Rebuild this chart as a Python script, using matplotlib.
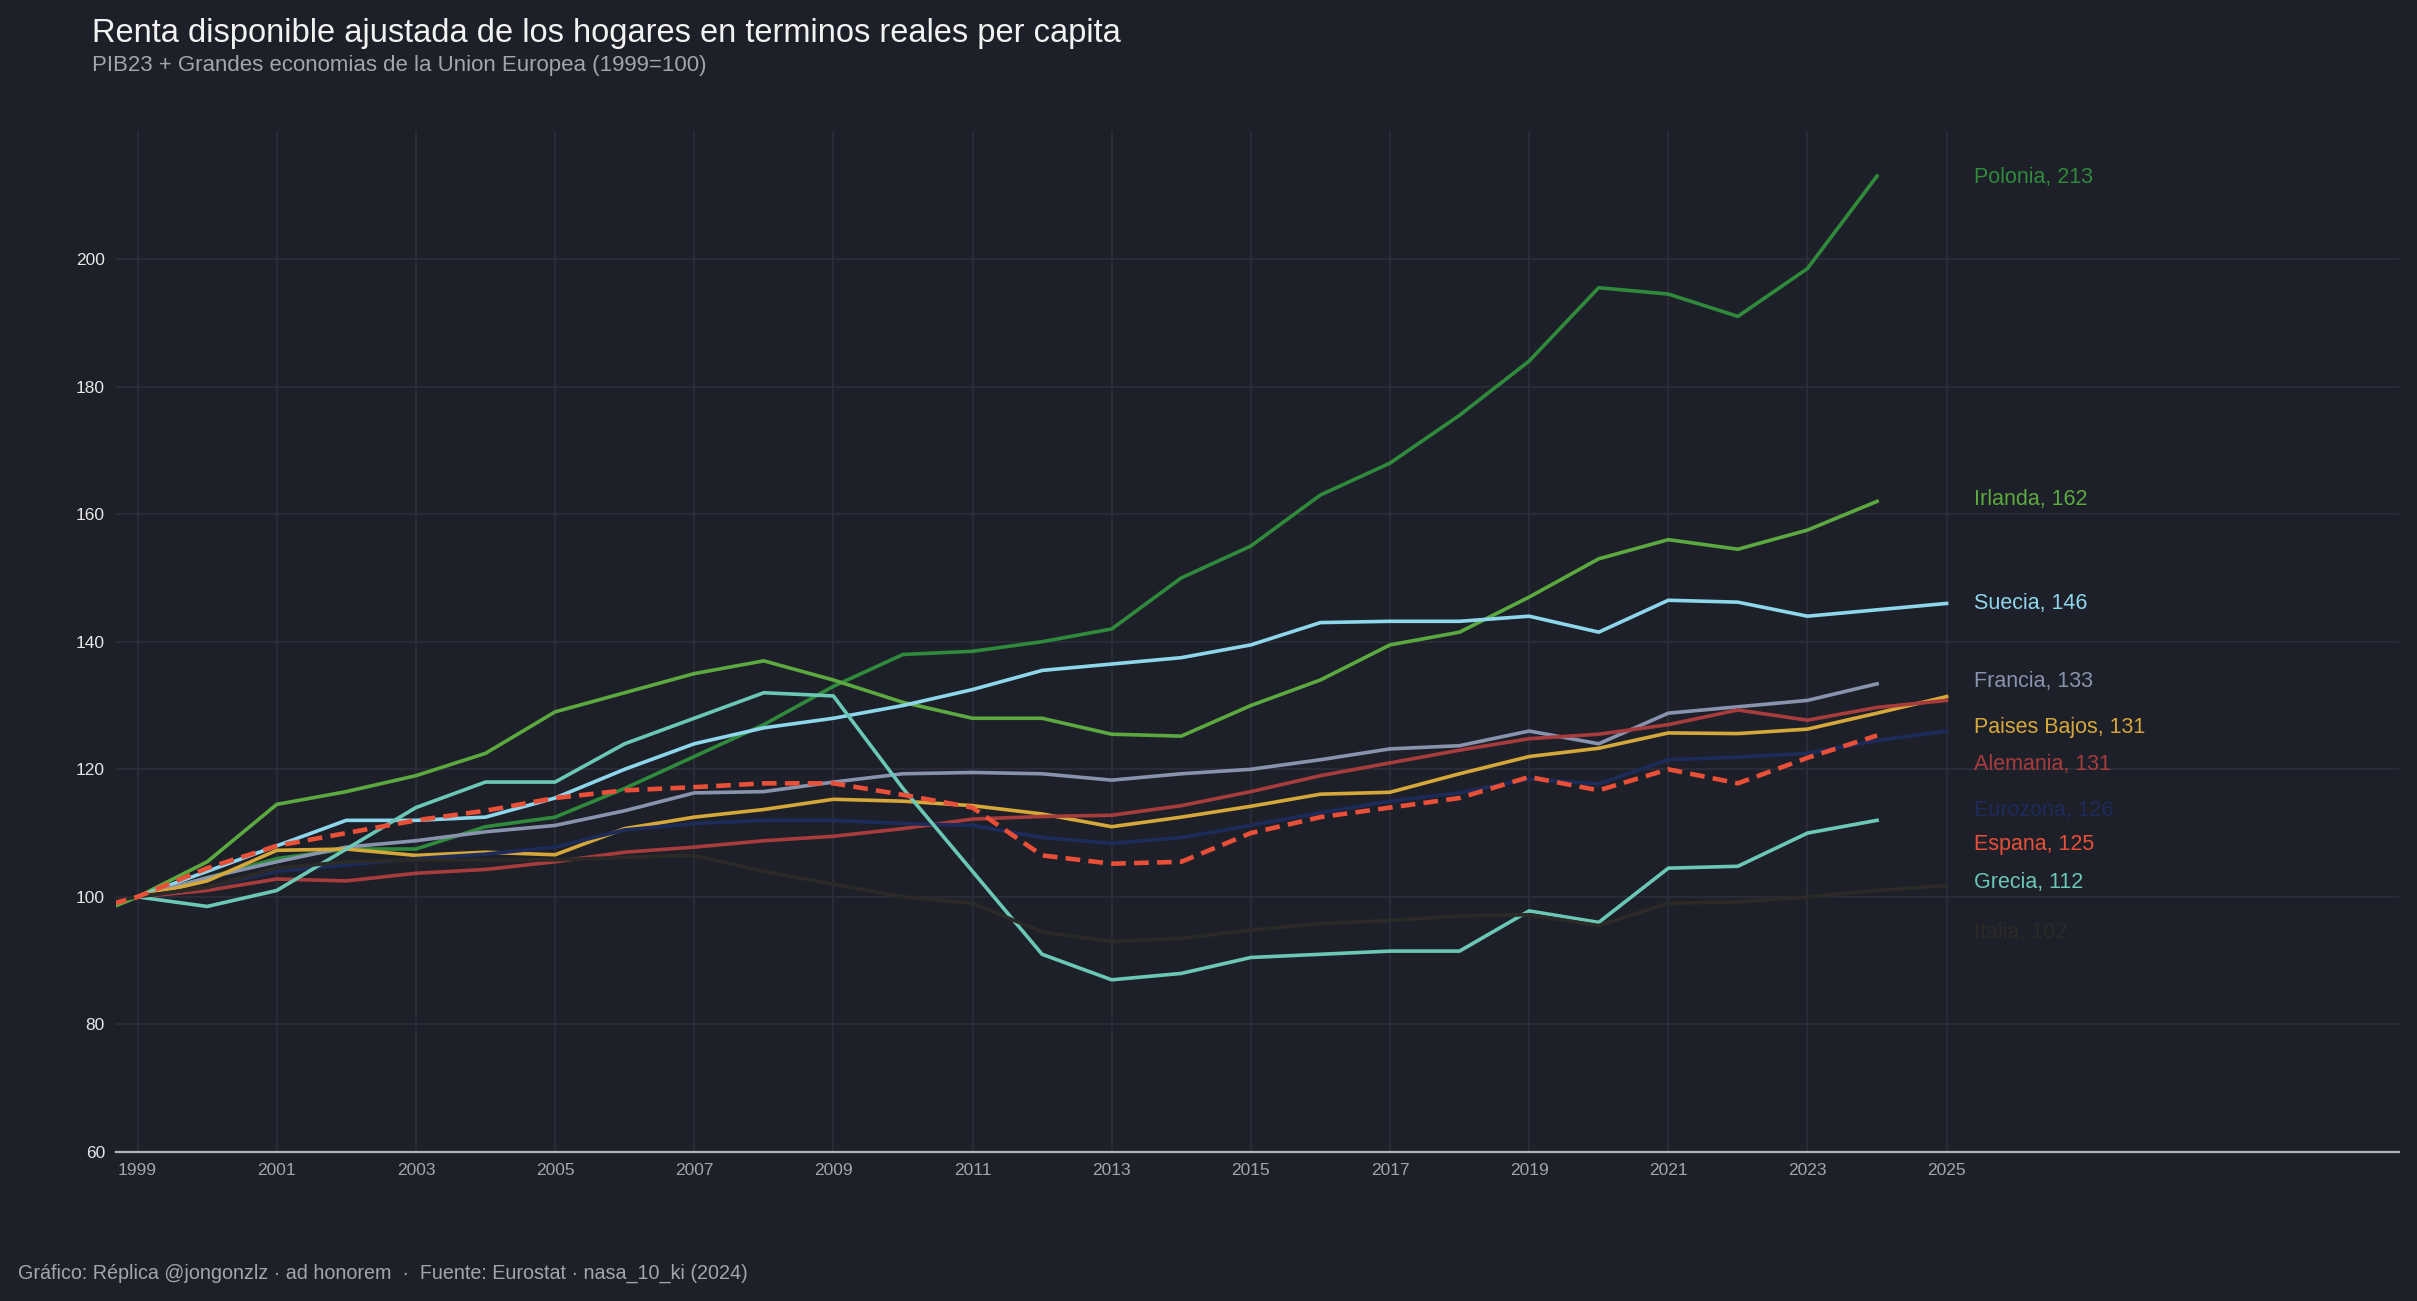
import matplotlib.pyplot as plt
import numpy as np

nan = np.nan
years = list(range(1998, 2026))

# 1999 = 100; nan where there is no point
polonia = [nan, 100, 103, 106, 107.5, 107.5, 111, 112.5, 117, 122, 127, 133, 138, 138.5, 140, 142,
           150, 155, 163, 168, 175.5, 184, 195.5, 194.5, 191, 198.5, 213, nan]
irlanda = [95.5, 100, 105.5, 114.5, 116.5, 119, 122.5, 129, 132, 135, 137, 134, 130.5, 128, 128, 125.5,
           125.2, 130, 134, 139.5, 141.5, 147, 153, 156, 154.5, 157.5, 162, nan]
suecia = [nan, 100, 104, 108, 112, 112, 112.5, 115.5, 120, 124, 126.5, 128, 130, 132.5, 135.5, 136.5,
          137.5, 139.5, 143, 143.2, 143.2, 144, 141.5, 146.5, 146.2, 144, 145, 146]
francia = [nan, 100, 103, 105.5, 107.8, 108.8, 110.2, 111.2, 113.5, 116.3, 116.5, 118, 119.3, 119.5, 119.3, 118.3,
           119.3, 120, 121.5, 123.2, 123.7, 126, 124, 128.8, 129.8, 130.8, 133.4, nan]
paises_bajos = [nan, 100, 102.5, 107.3, 107.5, 106.5, 107, 106.6, 110.7, 112.5, 113.7, 115.3, 115, 114.3, 113, 111,
                112.5, 114.2, 116.1, 116.4, 119.3, 122, 123.3, 125.7, 125.6, 126.3, 128.8, 131.4]
alemania = [nan, 100, 101, 102.8, 102.5, 103.7, 104.3, 105.5, 107, 107.8, 108.8, 109.5, 110.7, 112.2, 112.6, 112.8,
            114.3, 116.5, 119, 121, 123, 124.8, 125.5, 127, 129.3, 127.7, 129.7, 130.8]
eurozona = [nan, 100, 101.5, 104, 105, 106, 106.7, 107.8, 110.5, 111.5, 112, 112, 111.5, 111.2, 109.3, 108.4,
            109.3, 111.2, 113.2, 115, 116.3, 118.5, 117.7, 121.5, 121.9, 122.5, 124.5, 126]
espana = [97, 100, 104.5, 108, 110, 112, 113.5, 115.5, 116.7, 117.2, 117.8, 117.8, 116, 114, 106.5, 105.2,
          105.5, 110, 112.5, 114, 115.5, 118.8, 116.7, 120, 117.8, 121.8, 125.3, nan]
grecia = [nan, 100, 98.5, 101, 107.5, 114, 118, 118, 124, 128, 132, 131.5, 117, 104, 91, 87,
          88, 90.5, 91, 91.5, 91.5, 97.8, 96, 104.5, 104.8, 110, 112, nan]
italia = [98, 100, 101.5, 104.5, 105.5, 105.8, 105.8, 105.8, 106.2, 106.5, 104, 102, 100, 99, 94.5, 93,
          93.5, 94.8, 95.8, 96.3, 97, 97.2, 95.5, 99, 99.2, 100, 101, 101.8]

names = ["Polonia", "Irlanda", "Suecia", "Francia", "Paises Bajos", "Alemania",
         "Eurozona", "Espana", "Grecia", "Italia"]
series = [polonia, irlanda, suecia, francia, paises_bajos, alemania, eurozona, espana, grecia, italia]
colors = ["#2f8a3b", "#5ba93f", "#8ed6ec", "#8893ae", "#d6a83a", "#a83c3c",
          "#1d2b5b", "#ea4f37", "#6bc8b6", "#2b2a26"]
# where the end labels sit (pushed apart so they don't overlap)
label_y = [212.8, 162.3, 146, 133.8, 126.6, 120.8, 113.5, 108.2, 102.2, 94.4]

bg = "#1e2029"
plt.rcParams['font.family'] = ['Liberation Sans', 'DejaVu Sans']

fig = plt.figure(figsize=(24.17, 13.01), dpi=100, facecolor=bg)
ax = fig.add_axes([0.048, 0.1145, 0.9445, 0.7845])
ax.set_facecolor(bg)

for name, vals, c, ly in zip(names, series, colors, label_y):
    v = np.array(vals, dtype=float)
    if name == "Espana":
        ax.plot(years, v, color=c, lw=3.3, ls=(0, (3.2, 1.8)), zorder=5)
    else:
        ax.plot(years, v, color=c, lw=2.6, zorder=3)
    last = v[~np.isnan(v)][-1]
    ax.text(2025.4, ly, "{0}, {1:.0f}".format(name, last), color=c, fontsize=15.5,
            va="center", ha="left")

ax.set_xlim(1998.69, 2031.5)
ax.set_ylim(60, 220)
ax.set_xticks(range(1999, 2026, 2))
ax.set_yticks(range(60, 201, 20))
ax.grid(True, color="#2b2d3a", lw=1.3)
ax.set_axisbelow(True)
ax.tick_params(length=0, pad=8)
ax.tick_params(axis="y", labelsize=12.5, labelcolor="#e6e6e6")
ax.tick_params(axis="x", labelsize=12.5, labelcolor="#a4a4ac")
for s in ["top", "right", "left"]:
    ax.spines[s].set_visible(False)
ax.spines["bottom"].set_color("#b4b4b8")
ax.spines["bottom"].set_linewidth(1.6)

fig.text(0.038, 0.986, "Renta disponible ajustada de los hogares en terminos reales per capita",
         color="#f2f2f2", fontsize=23.5, va="top")
fig.text(0.038, 0.958, "PIB23 + Grandes economias de la Union Europea (1999=100)",
         color="#a4a4ac", fontsize=16, va="top")
fig.text(0.0075, 0.0135, "Gráfico: Réplica @jongonzlz · ad honorem  ·  Fuente: Eurostat · nasa_10_ki (2024)",
         color="#a4a4ac", fontsize=14.2, va="bottom")

fig.savefig("out.png", dpi=100, facecolor=bg)
